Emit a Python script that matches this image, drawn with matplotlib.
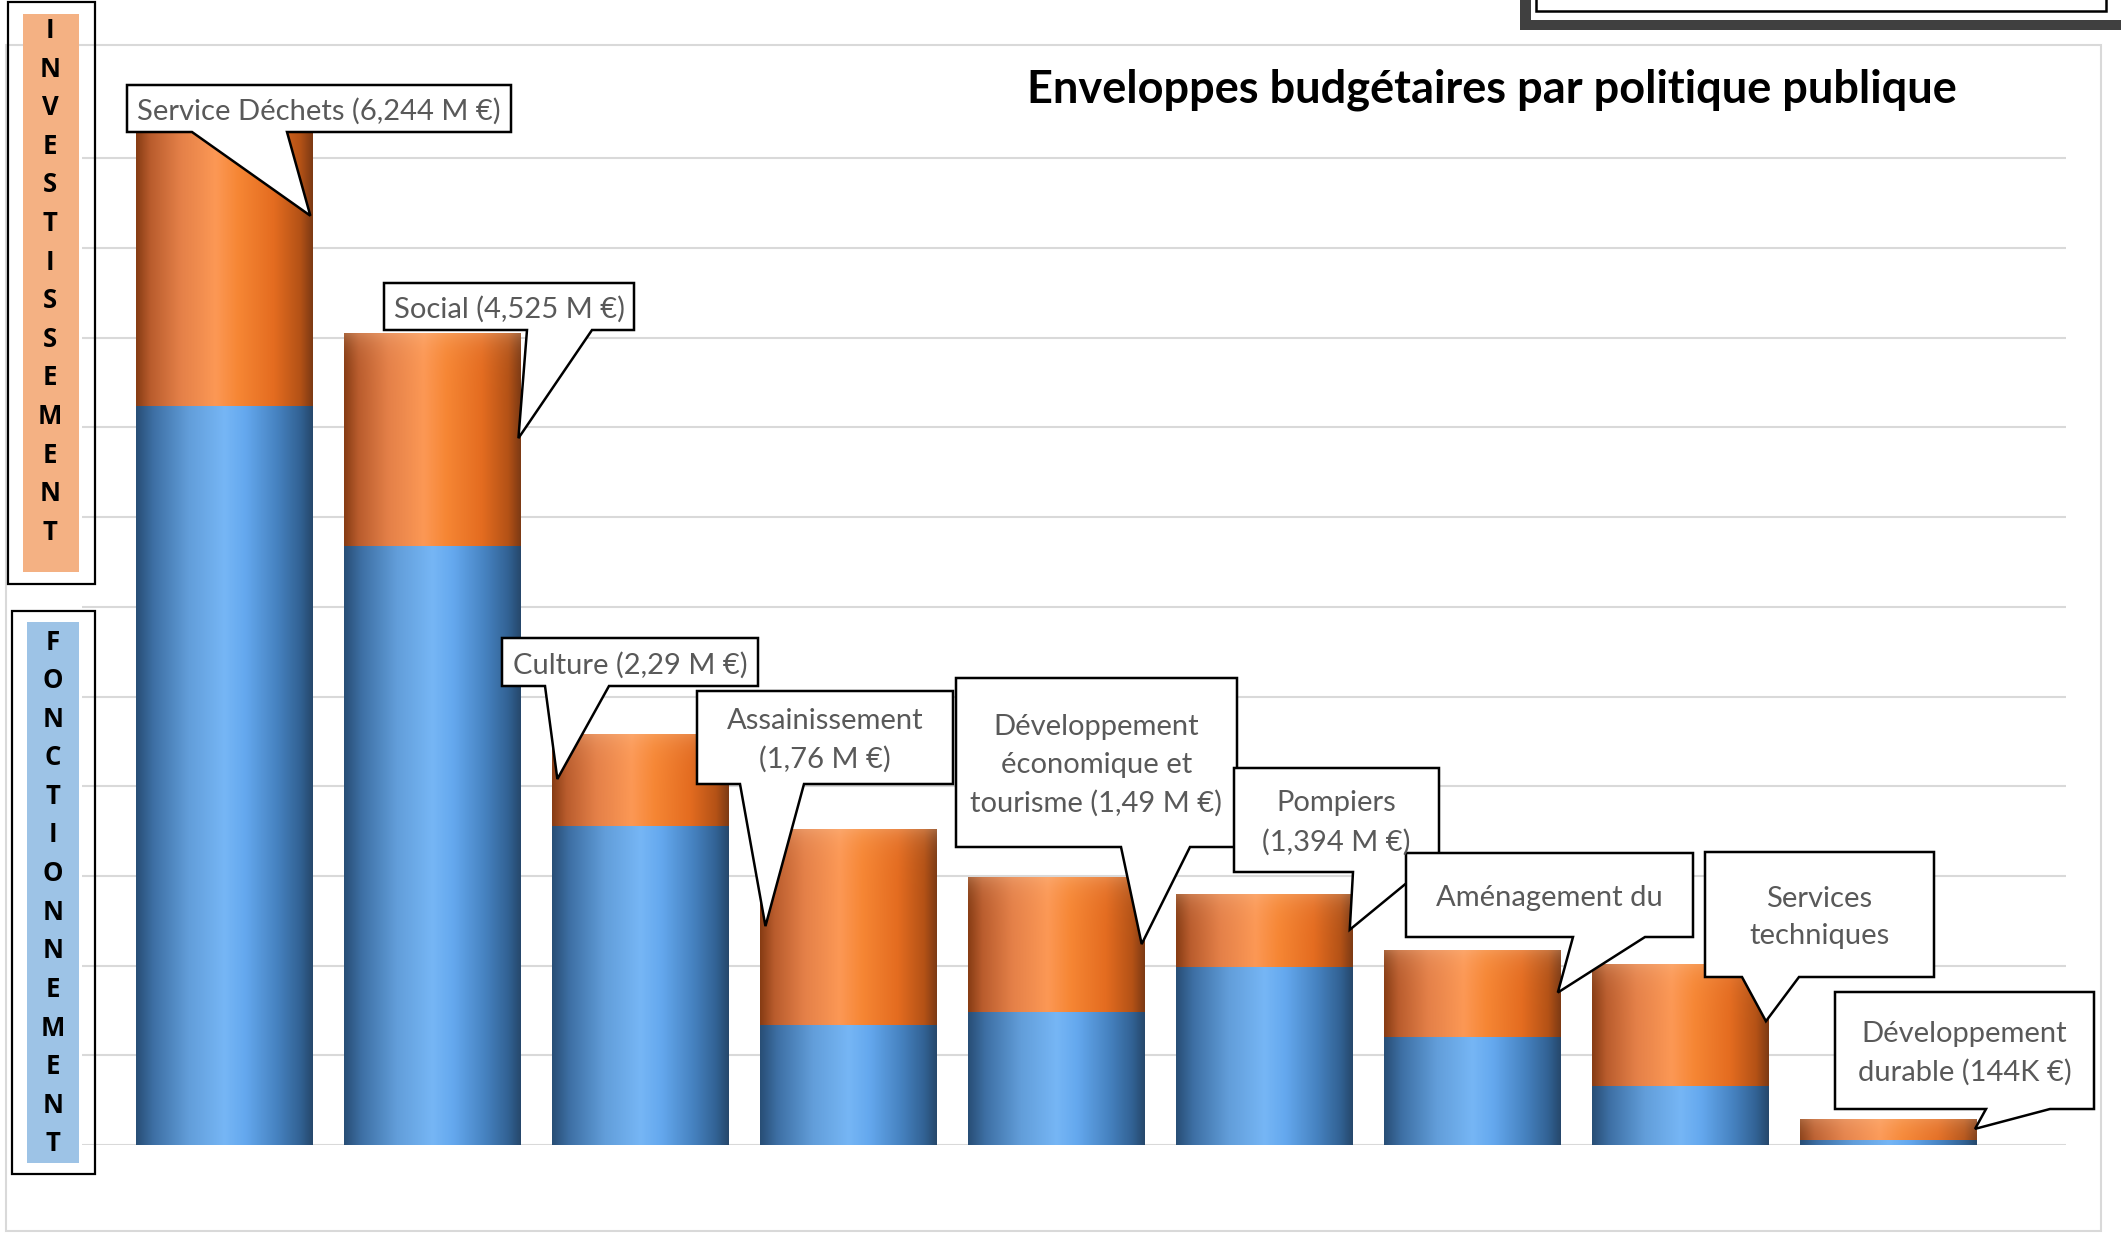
import numpy as np
import matplotlib.pyplot as plt
from matplotlib.patches import Polygon, Rectangle

W, H = 2121, 1234

categories = ["Service Déchets", "Social", "Culture", "Assainissement",
              "Développement économique et tourisme", "Pompiers",
              "Aménagement du territoire", "Services techniques",
              "Développement durable"]
# millions d'euros
fonctionnement = [4.12, 3.34, 1.78, 0.67, 0.74, 0.99, 0.60, 0.33, 0.03]
investissement = [2.124, 1.185, 0.51, 1.09, 0.75, 0.404, 0.48, 0.68, 0.114]
labels = ["Service Déchets (6,244 M €)", "Social (4,525 M €)",
          "Culture (2,29 M €)", "Assainissement\n(1,76 M €)",
          "Développement\néconomique et\ntourisme (1,49 M €)",
          "Pompiers\n(1,394 M €)", "Aménagement du",
          "Services\ntechniques", "Développement\ndurable (144K €)"]
title = "Enveloppes budgétaires par politique publique"

# callout layout in pixels: box (x0, y0, x1, y1), pointer base (xa, xb),
# and pointer tip as (offset from bar centre, value)
callouts = [
    ((127, 85, 511, 132), (192, 287), (0.415, 5.18)),
    ((384, 283, 634, 330), (527, 592), (0.415, 3.94)),
    ((502, 638, 758, 686), (545, 609), (-0.398, 2.04)),
    ((697, 691, 953, 784), (740, 804), (-0.398, 1.22)),
    ((956, 678, 1237, 847), (1121, 1190), (0.41, 1.12)),
    ((1234, 768, 1439, 872), (1353, 1420), (0.41, 1.20)),
    ((1406, 853, 1693, 937), (1573, 1645), (0.41, 0.85)),
    ((1705, 852, 1934, 977), (1742, 1799), (0.41, 0.69)),
    ((1835, 992, 2094, 1109), (1986, 2050), (0.415, 0.09)),
]

orange_stops = [(0.0, (135, 60, 20)), (0.08, (185, 92, 45)), (0.25, (228, 128, 72)),
                (0.45, (252, 152, 85)), (0.58, (246, 134, 52)), (0.78, (228, 108, 32)),
                (0.93, (180, 82, 22)), (1.0, (125, 58, 20))]
blue_stops = [(0.0, (40, 78, 118)), (0.1, (62, 112, 165)), (0.3, (98, 158, 218)),
              (0.5, (118, 182, 245)), (0.62, (100, 168, 238)), (0.8, (70, 130, 192)),
              (0.93, (50, 98, 148)), (1.0, (38, 72, 108))]


def gradient(stops, height, top_glow):
    pos = [s[0] for s in stops]
    xs = np.linspace(0, 1, 200)
    row = np.stack([np.interp(xs, pos, [s[1][c] for s in stops]) for c in range(3)], axis=1) / 255
    d = np.linspace(0, height, 80)
    w = (top_glow * np.exp(-d / 0.07))[:, None, None]
    img = row[None, :, :] * (1 - w) + np.array([0.98, 0.78, 0.62]) * w
    return np.clip(img, 0, 1)


fig = plt.figure(figsize=(W / 100, H / 100), dpi=100)

x = np.arange(len(categories))
ax = fig.add_axes([82 / W, (H - 1145) / H, (2066 - 82) / W, (1145 - 113.45) / H])
ax.set_zorder(1)
width = 0.85
b1 = ax.bar(x, fonctionnement, width, color="#5b9bd5", zorder=2)
b2 = ax.bar(x, investissement, width, bottom=fonctionnement, color="#ed7d31", zorder=2)
for bars, stops, glow in [(b1, blue_stops, 0.0), (b2, orange_stops, 0.3)]:
    for p in bars:
        x0, y0 = p.get_x(), p.get_y()
        ax.imshow(gradient(stops, p.get_height(), glow), origin="upper",
                  extent=(x0, x0 + p.get_width(), y0, y0 + p.get_height()),
                  aspect="auto", interpolation="bilinear", zorder=3)
ax.set_xlim(-0.6824, 8.852)
ax.set_ylim(0, 5.75)
ax.set_yticks(np.arange(0, 5.51, 0.5))
ax.yaxis.grid(True, color="#d9d9d9", lw=1.5)
ax.set_axisbelow(True)
ax.tick_params(left=False, bottom=False, labelleft=False, labelbottom=False)
for s in ax.spines.values():
    s.set_visible(False)
ax.patch.set_visible(False)

ov = fig.add_axes([0, 0, 1, 1])
ov.set_zorder(2)
ov.set_xlim(0, W)
ov.set_ylim(H, 0)
ov.axis("off")

# chart area border
ov.add_patch(Rectangle((6, 45), 2095, 1186, fill=False, ec="#d9d9d9", lw=1.5))

# cut-off frame top right
ov.add_patch(Rectangle((1520, -60), 700, 90, color="#404040", lw=0))
ov.add_patch(Rectangle((1531, -60), 700, 80, color="white", lw=0))
ov.add_patch(Rectangle((1536, -60), 570, 71, fill=False, ec="black", lw=1.8))

ov.text(1492, 90, title, ha="center", va="center", fontsize=32.5,
        fontweight="bold", family="Lato", color="black")

# side boxes
for frame, fill, fc, word, lx, ly in [
        ((8, 1.5, 87, 582), (23, 13.5, 55.5, 558.5), "#f4b183", "INVESTISSEMENT", 50, 30.5),
        ((12, 611, 83, 563), (27, 622, 51.5, 541), "#9dc3e6", "FONCTIONNEMENT", 53, 642)]:
    ov.add_patch(Rectangle(frame[:2], frame[2], frame[3], fill=False, ec="black", lw=1.6))
    ov.add_patch(Rectangle(fill[:2], fill[2], fill[3], color=fc, lw=0))
    for k, ch in enumerate(word):
        ov.text(lx, ly + 38.6 * k, ch, ha="center", va="center", fontsize=18.5,
                fontweight="bold", family="Open Sans", color="black")

# callouts
for (box, base, tip), lab in zip(callouts, labels):
    i = labels.index(lab)
    tx, ty = ov.transData.inverted().transform(
        ax.transData.transform((x[i] + tip[0], tip[1])))
    x0, y0, x1, y1 = box
    pts = [(x0, y0), (x1, y0), (x1, y1), (base[1], y1), (tx, ty), (base[0], y1), (x0, y1)]
    ov.add_patch(Polygon(pts, closed=True, fc="white", ec="black", lw=1.8, joinstyle="miter"))
    ov.text((x0 + x1) / 2, (y0 + y1) / 2 + 3, lab, ha="center", va="center",
            fontsize=21, family="Lato", color="#595959", linespacing=1.56)

fig.savefig("out.png", dpi=100)
